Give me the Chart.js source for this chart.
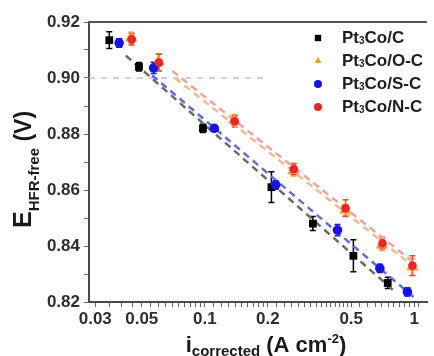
<!DOCTYPE html>
<html>
<head>
<meta charset="utf-8">
<script src="https://cdn.jsdelivr.net/npm/chart.js@4.4.1/dist/chart.umd.min.js"></script>
<style>
  html, body { margin: 0; padding: 0; background: #fff; }
</style>
</head>
<body>
<canvas id="tafel" width="434" height="356"></canvas>
<script>
// Tafel data: current density (A cm-2) vs HFR-free potential (V)
var seriesNames = ['Pt3Co/C', 'Pt3Co/O-C', 'Pt3Co/S-C', 'Pt3Co/N-C'];

var ptcoC_i   = [0.035, 0.0485, 0.098, 0.208, 0.328, 0.512, 0.747];
var ptcoC_E   = [0.9135, 0.904, 0.882, 0.861, 0.848, 0.8365, 0.8268];
var ptcoC_err = [0.003, 0.0015, 0.0015, 0.0055, 0.0025, 0.0057, 0.002];

var ptcoO_i   = [0.0445, 0.060, 0.138, 0.2646, 0.469, 0.70, 0.98];
var ptcoO_E   = [0.9143, 0.9057, 0.885, 0.867, 0.8529, 0.8404, 0.8325];
var ptcoO_err = [0.002, 0.003, 0.002, 0.002, 0.002, 0.002, 0.003];

var ptcoS_i   = [0.039, 0.057, 0.111, 0.218, 0.43, 0.685, 0.927];
var ptcoS_E   = [0.9125, 0.9036, 0.882, 0.8618, 0.8457, 0.832, 0.8236];
var ptcoS_err = [0.0015, 0.002, 0.001, 0.0015, 0.002, 0.0015, 0.0015];

var ptcoN_i   = [0.0448, 0.0605, 0.139, 0.266, 0.47, 0.705, 0.98];
var ptcoN_E   = [0.9138, 0.9055, 0.8845, 0.8675, 0.8535, 0.841, 0.833];
var ptcoN_err = [0.002, 0.003, 0.002, 0.002, 0.003, 0.002, 0.0035];

// linear Tafel fits, end points
var fitC_i = [0.042, 0.80];  var fitC_E = [0.908, 0.824];
var fitO_i = [0.072, 1.00];  var fitO_E = [0.900, 0.8325];
var fitS_i = [0.056, 1.00];  var fitS_E = [0.901, 0.8216];
var fitN_i = [0.070, 1.00];  var fitN_E = [0.9025, 0.834];

// 0.90 V reference line
var ref_i = [0.028, 0.19];
var ref_E = [0.90, 0.90];

var xTickLabels = [0.03, 0.05, 0.1, 0.2, 0.5, 1];
var yTickLabels = [0.82, 0.84, 0.86, 0.88, 0.90, 0.92];

var FONT = "'Liberation Sans', Arial, sans-serif";

function pts(xs, ys) {
  return xs.map(function (x, k) { return { x: x, y: ys[k] }; });
}
function r3(v) { return Math.round(v * 10000) / 10000; }

var markColors = ['#000000', '#f39a2e', '#1414ea', '#ec2626'];
var barColors  = ['#000000', '#f2a040', '#1414ea', '#ee4a30'];
var fitColors  = ['#6a6a6a', '#f6bb86', '#5b6fe2', '#f3a0a0'];
var markStyles = ['rect', 'triangle', 'circle', 'circle'];
var markRadius = [5.5, 7, 4.8, 4.3];
var allI   = [ptcoC_i, ptcoO_i, ptcoS_i, ptcoN_i];
var allE   = [ptcoC_E, ptcoO_E, ptcoS_E, ptcoN_E];
var allErr = [ptcoC_err, ptcoO_err, ptcoS_err, ptcoN_err];
var fitI = [fitC_i, fitO_i, fitS_i, fitN_i];
var fitE = [fitC_E, fitO_E, fitS_E, fitN_E];
var markOrder = [3, 2, 1, 0];

var datasets = [];
for (var s = 0; s < 4; s++) {
  datasets.push({
    type: 'scatter',
    label: seriesNames[s],
    data: pts(allI[s], allE[s]),
    pointStyle: markStyles[s],
    pointRadius: markRadius[s],
    pointBackgroundColor: markColors[s],
    pointBorderColor: markColors[s],
    pointBorderWidth: 0,
    errors: allErr[s],
    barColor: barColors[s],
    order: markOrder[s]
  });
}
for (var f = 0; f < 4; f++) {
  datasets.push({
    type: 'line',
    label: 'fit ' + seriesNames[f],
    data: pts(fitI[f], fitE[f]),
    borderColor: fitColors[f],
    borderWidth: 2.5,
    borderDash: [7, 5],
    pointRadius: 0,
    fill: false,
    order: 10 + f
  });
}
datasets.push({
  type: 'line',
  label: 'ref',
  data: pts(ref_i, ref_E),
  borderColor: '#c4c4c4',
  borderWidth: 1.5,
  borderDash: [6, 6],
  pointRadius: 0,
  fill: false,
  order: 20
});

// error bars, drawn under the markers
var errorBars = {
  id: 'errorBars',
  beforeDatasetsDraw: function (chart) {
    var ctx = chart.ctx, xs = chart.scales.x, ys = chart.scales.y;
    ctx.save();
    chart.data.datasets.forEach(function (ds) {
      if (!ds.errors) return;
      ctx.strokeStyle = ds.barColor;
      ctx.lineWidth = 1.5;
      ds.data.forEach(function (p, k) {
        var e = ds.errors[k];
        var px = xs.getPixelForValue(p.x);
        var top = ys.getPixelForValue(p.y + e);
        var bot = ys.getPixelForValue(p.y - e);
        ctx.beginPath();
        ctx.moveTo(px, top); ctx.lineTo(px, bot);
        ctx.moveTo(px - 3, top); ctx.lineTo(px + 3, top);
        ctx.moveTo(px - 3, bot); ctx.lineTo(px + 3, bot);
        ctx.stroke();
      });
    });
    ctx.restore();
  }
};

// draws a run of [text, size, baselineShift] pieces
function runWidth(ctx, parts) {
  var w = 0;
  parts.forEach(function (p) {
    ctx.font = 'bold ' + p[1] + 'px ' + FONT;
    w += ctx.measureText(p[0]).width;
  });
  return w;
}
function drawRun(ctx, parts, x, y) {
  parts.forEach(function (p) {
    ctx.font = 'bold ' + p[1] + 'px ' + FONT;
    ctx.fillText(p[0], x, y + p[2]);
    x += ctx.measureText(p[0]).width;
  });
}

var frameAndLabels = {
  id: 'frameAndLabels',
  afterDraw: function (chart) {
    var ctx = chart.ctx, a = chart.chartArea;
    ctx.save();
    // top frame line
    ctx.strokeStyle = '#555';
    ctx.lineWidth = 2;
    ctx.beginPath();
    ctx.moveTo(a.left - 1, a.top);
    ctx.lineTo(a.right, a.top);
    ctx.stroke();

    // legend
    var lx = 318, ly = 38, step = 23;
    ctx.textBaseline = 'middle';
    ctx.textAlign = 'left';
    for (var s = 0; s < 4; s++) {
      var yy = ly + s * step;
      ctx.fillStyle = markColors[s];
      Chart.helpers.drawPoint(ctx, {
        pointStyle: markStyles[s], radius: markStyles[s] === 'rect' ? 4.5 : 4,
        rotation: 0, borderWidth: 0
      }, lx, yy);
      ctx.fillStyle = '#1e1e1e';
      var sub = seriesNames[s].split('3');
      drawRun(ctx, [[sub[0], 17, 0], ['3', 10, 3], [sub[1], 17, 0]], 342, yy);
    }

    // x axis title
    ctx.fillStyle = '#1a1a1a';
    ctx.textBaseline = 'alphabetic';
    var xParts = [['i', 22, 0], ['corrected', 15, 4], [' (A cm', 22, 0], ['-2', 13, -9], [')', 22, 0]];
    var xw = runWidth(ctx, xParts);
    drawRun(ctx, xParts, 266 - xw / 2, 352);

    // y axis title, rotated
    ctx.translate(31, 228);
    ctx.rotate(-Math.PI / 2);
    drawRun(ctx, [['E', 25, 0], ['HFR-free', 15, 8], [' (V)', 23, 0]], 0, 0);
    ctx.restore();
  }
};

var tickFont = { family: FONT, size: 17, weight: 'bold' };

new Chart(document.getElementById('tafel'), {
  data: { datasets: datasets },
  options: {
    responsive: false,
    animation: false,
    devicePixelRatio: 1,
    layout: { padding: { top: 22, right: 1, left: 0, bottom: 0 } },
    plugins: { legend: { display: false }, tooltip: { enabled: false } },
    scales: {
      x: {
        type: 'logarithmic',
        position: 'bottom',
        min: 0.028,
        max: 1.15,
        border: { display: true, color: '#4a4a4a', width: 2 },
        grid: { drawOnChartArea: false, drawTicks: true, tickLength: 5, color: '#666', lineWidth: 1 },
        afterBuildTicks: function (scale) {
          var vals = [];
          var v;
          for (v = 0.03; v < 0.1; v += 0.005) vals.push(r3(v));
          for (v = 0.1; v < 0.2; v += 0.01) vals.push(r3(v));
          for (v = 0.2; v < 0.5; v += 0.02) vals.push(r3(v));
          for (v = 0.5; v <= 1.1; v += 0.05) vals.push(r3(v));
          scale.ticks = vals.map(function (t) { return { value: t }; });
        },
        afterFit: function (scale) { scale.height = 54; },
        ticks: {
          autoSkip: false,
          maxRotation: 0,
          padding: 2,
          color: '#2e2e2e',
          font: tickFont,
          callback: function (value) {
            for (var k = 0; k < xTickLabels.length; k++) {
              if (Math.abs(xTickLabels[k] - value) < 1e-6) return String(xTickLabels[k]);
            }
            return '';
          }
        }
      },
      y: {
        type: 'linear',
        min: 0.82,
        max: 0.92,
        border: { display: true, color: '#4a4a4a', width: 2 },
        grid: { drawOnChartArea: false, drawTicks: true, tickLength: 5, color: '#666', lineWidth: 1 },
        afterBuildTicks: function (scale) {
          var vals = [];
          for (var k = 0; k <= 10; k++) vals.push(r3(0.82 + k * 0.01));
          scale.ticks = vals.map(function (t) { return { value: t }; });
        },
        afterFit: function (scale) { scale.width = 89; },
        ticks: {
          autoSkip: false,
          padding: 4,
          color: '#2e2e2e',
          font: tickFont,
          callback: function (value) {
            for (var k = 0; k < yTickLabels.length; k++) {
              if (Math.abs(yTickLabels[k] - value) < 1e-6) return yTickLabels[k].toFixed(2);
            }
            return '';
          }
        }
      }
    }
  },
  plugins: [errorBars, frameAndLabels]
});
</script>
</body>
</html>
